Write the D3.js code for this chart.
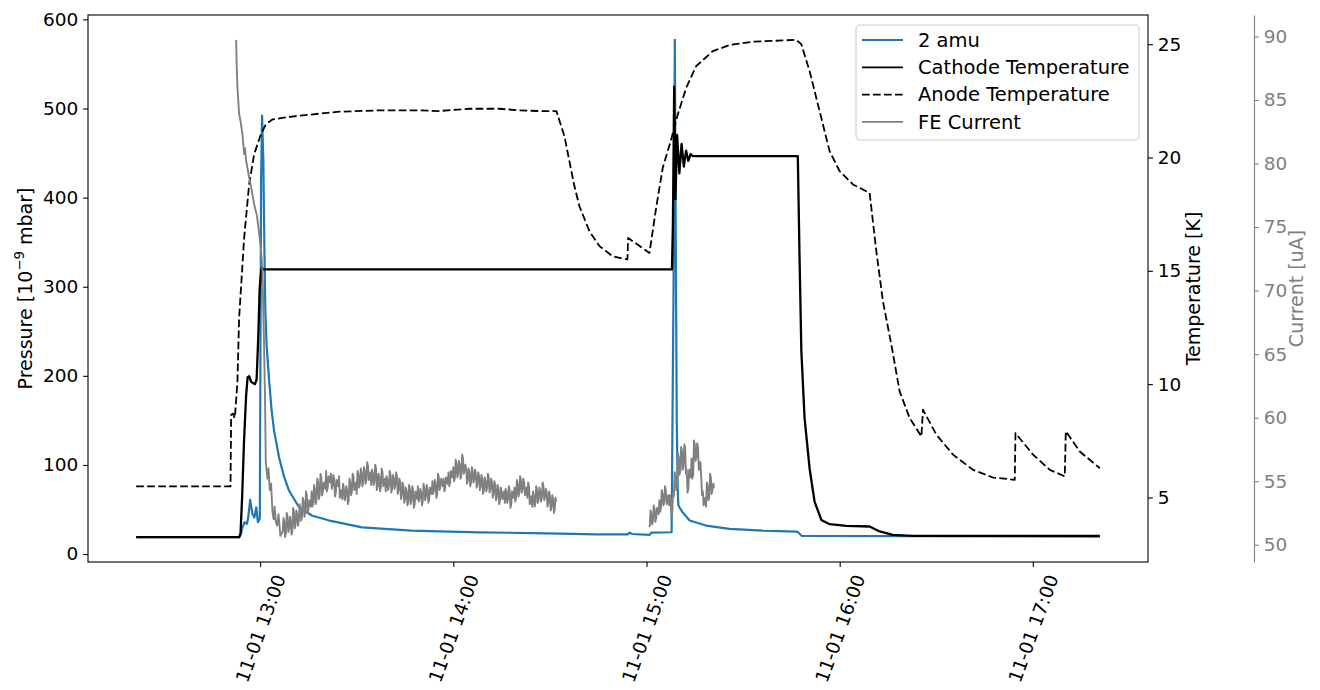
<!DOCTYPE html>
<html>
<head>
<meta charset="utf-8">
<script src="https://cdn.jsdelivr.net/npm/d3@7"></script>
<style>
  html, body { margin: 0; padding: 0; background: #fff; }
  svg { display: block; font-family: "DejaVu Sans", sans-serif; }
</style>
</head>
<body>
<svg id="chart" width="1320" height="690"></svg>
<script>
// ---- data: times are minutes after 12:00 on 11-01 ----
const day0 = new Date(2023, 10, 1, 12, 0, 0);

// 2 amu partial pressure [1e-9 mbar]
const pressureMin = [21.5, 53.5, 54.0, 54.5, 55.2, 55.9, 56.3, 56.9, 57.6, 58.2, 58.8, 59.3, 59.9, 60.3, 60.6, 61.0, 61.3, 61.6, 62.0, 62.8, 63.6, 64.35, 65.9, 67.5, 69.0, 72.1, 76.2, 81.5, 91.7, 107, 128, 149, 164.5, 174.1, 174.7, 175.6, 180.9, 181.5, 187.8, 188.4, 188.8, 189.1, 189.4, 189.7, 189.9, 190.3, 191.2, 193.4, 198.5, 205.8, 216, 226.5, 226.9, 228.2, 320.8];
const pressureVal = [19, 19, 22.6, 30, 35.7, 33.8, 41, 60.8, 45, 41, 52.5, 35.7, 40, 420, 492, 440, 350, 275, 235, 194, 160, 138, 108, 86, 71, 52.5, 43, 37.6, 30, 26.3, 24.4, 23.3, 22, 22, 24, 22.5, 21.5, 24, 24.5, 300, 577, 350, 150, 71, 55, 52, 47, 37.6, 32, 28.2, 26.3, 25.2, 25, 20.5, 19.5];

// Cathode temperature [K]
const cathodeMin = [21.5, 53.5, 53.9, 54.4, 55.0, 55.65, 56.1, 56.6, 57.2, 58.4, 58.9, 59.4, 59.85, 60.3, 60.6, 60.9, 187.9, 188.2, 188.6, 189.0, 189.5, 190.2, 190.9, 191.6, 192.3, 193.0, 193.7, 194.4, 227.0, 227.5, 228.1, 229.1, 230.65, 232.2, 234.3, 236.9, 242.1, 249.3, 252.4, 256.5, 262.7, 320.8];
const cathodeVal = [3.25, 3.25, 3.4, 5.0, 7.5, 9.5, 10.3, 10.35, 10.1, 10.0, 10.2, 12, 14.2, 15.0, 15.15, 15.06, 15.06, 17, 23.13, 18.16, 21.0, 19.3, 20.6, 19.6, 20.3, 19.85, 20.15, 20.06, 20.06, 15.87, 11.45, 8.5, 6.29, 4.82, 4.01, 3.82, 3.75, 3.72, 3.5, 3.35, 3.31, 3.31];

// Anode temperature [K]
const anodeMin = [21.5, 50.8, 51.0, 51.6, 52.1, 52.4, 52.95, 53.47, 55.03, 56.58, 58.13, 60.22, 61.77, 63.82, 71.1, 84.56, 97, 109.4, 115.6, 125, 134.3, 140.5, 146.7, 152.0, 154.5, 156.05, 157.6, 159.16, 162.27, 165.38, 169.51, 174.08, 174.3, 180.92, 183.0, 185.06, 187.67, 189.72, 192.33, 195.43, 200.59, 205.78, 213.03, 226.52, 228.07, 230.65, 233.76, 236.87, 239.98, 244.11, 249.3, 251.38, 253.43, 256.05, 258.63, 261.74, 265.38, 265.87, 270.04, 275.2, 281.41, 287.63, 294.38, 294.6, 300.07, 305.26, 309.92, 310.23, 314.58, 320.8];
const anodeVal = [5.49, 5.49, 8.65, 8.7, 8.5, 9.0, 10.12, 12.92, 16.45, 18.81, 20.14, 21.02, 21.46, 21.68, 21.83, 22.02, 22.08, 22.08, 22.05, 22.15, 22.15, 22.08, 22.05, 22.05, 20.95, 19.84, 18.74, 17.85, 16.75, 16.09, 15.64, 15.5, 16.45, 15.79, 17.78, 19.55, 20.8, 21.9, 23.07, 24.03, 24.69, 24.96, 25.11, 25.19, 25.0, 23.82, 22.05, 20.28, 19.4, 18.81, 18.44, 15.87, 13.66, 11.74, 9.68, 8.5, 7.69, 8.87, 7.77, 6.89, 6.22, 5.88, 5.78, 7.84, 6.89, 6.22, 5.93, 7.92, 7.03, 6.29];

// Field-emission current [uA]: switch-on transient
const feRampMin = [52.54, 52.75, 52.95, 53.47, 54.0, 54.5, 55.03, 55.3, 55.6, 56.58, 57.3, 58.13, 59.0, 59.69, 60.2, 60.71, 61.2, 61.55, 61.75, 62.27, 62.6, 63.0, 63.4, 63.82, 64.2, 64.5, 64.88, 65.3, 65.7, 66.3, 66.93];
const feRampVal = [89.73, 87.5, 85.94, 83.9, 83.2, 82.3, 80.75, 81.2, 80.3, 78.9, 78.0, 76.8, 75.9, 74.5, 73.4, 71.6, 66, 61, 56.5, 55.2, 56.0, 54.3, 54.8, 52.6, 52.0, 53.0, 51.8, 51.5, 52.4, 50.7, 51.0];

// FE current, logged every 15 s during the first run
const feRunStart = 67.0, feRunStep = 0.25;
const feRunVal = [
  51.0, 52.1, 51.8, 50.6, 50.9, 52.5, 52.2, 51.0, 51.3, 52.2, 51.9, 50.8, 51.1, 52.9, 52.6, 51.3, 51.6, 52.7, 52.4, 51.5,
  51.8, 53.2, 52.9, 51.9, 52.2, 53.7, 53.4, 52.2, 52.5, 54.2, 53.9, 52.5, 52.8, 53.5, 53.2, 53.0, 54.2, 53.0, 53.3, 54.7,
  54.4, 53.2, 53.5, 55.2, 54.9, 53.6, 53.9, 55.6, 55.3, 53.9, 54.2, 54.9, 54.6, 54.4, 55.8, 54.2, 54.5, 55.4, 55.1, 54.9,
  55.6, 54.4, 54.7, 55.5, 55.2, 53.8, 54.1, 55.1, 54.8, 54.6, 55.4, 53.7, 54.0, 54.3, 53.6, 54.8, 54.5, 53.5, 53.8, 54.6,
  54.3, 53.2, 53.5, 55.2, 54.9, 53.9, 54.2, 55.6, 55.3, 54.3, 54.6, 54.9, 54.0, 55.8, 55.5, 54.5, 54.8, 56.0, 55.7, 54.6,
  54.9, 56.1, 55.8, 54.8, 55.1, 56.5, 56.2, 55.1, 55.4, 55.7, 54.7, 55.9, 55.6, 54.7, 55.0, 56.3, 56.0, 54.3, 54.6, 55.6,
  55.3, 54.2, 54.5, 56.0, 55.7, 54.6, 54.9, 55.2, 54.2, 55.4, 55.1, 54.3, 54.6, 55.8, 55.5, 54.1, 54.4, 55.5, 55.2, 54.4,
  54.7, 55.7, 55.4, 54.0, 54.3, 55.2, 54.9, 53.6, 53.9, 54.9, 54.6, 53.3, 53.6, 54.5, 54.2, 53.1, 53.4, 54.7, 54.4, 53.2,
  53.5, 54.6, 54.3, 52.9, 53.2, 54.2, 53.9, 53.6, 54.6, 53.4, 53.7, 54.4, 54.1, 53.1, 53.4, 54.8, 54.5, 53.5, 53.8, 54.7,
  54.4, 53.3, 53.6, 54.5, 54.2, 54.0, 55.0, 54.0, 54.3, 55.1, 54.8, 53.7, 54.0, 55.6, 55.3, 54.3, 54.6, 55.2, 54.9, 54.6,
  55.2, 54.2, 54.5, 55.3, 55.0, 54.8, 55.7, 54.6, 54.9, 55.8, 55.5, 55.3, 56.1, 55.0, 55.3, 56.7, 56.4, 55.3, 55.6, 56.6,
  56.3, 55.2, 55.5, 57.1, 56.8, 55.6, 55.9, 56.3, 56.0, 54.8, 55.1, 56.0, 55.7, 54.6, 54.9, 56.1, 55.8, 54.9, 55.2, 55.9,
  55.6, 54.5, 54.8, 55.7, 55.4, 54.3, 54.6, 55.5, 55.2, 54.0, 54.3, 55.3, 55.0, 54.2, 54.5, 55.6, 55.3, 54.1, 54.4, 55.2,
  54.9, 53.7, 54.0, 55.0, 54.7, 53.5, 53.8, 54.7, 54.4, 53.2, 53.5, 54.5, 54.2, 53.6, 53.9, 54.2, 53.3, 54.4, 54.1, 53.3,
  53.6, 54.6, 54.3, 52.9, 53.2, 54.2, 53.9, 53.7, 54.5, 53.4, 53.7, 55.1, 54.8, 53.8, 54.1, 55.4, 55.1, 54.1, 54.4, 55.2,
  54.9, 53.9, 54.2, 54.5, 53.7, 54.9, 54.6, 53.2, 53.5, 53.8, 53.0, 54.2, 53.9, 53.0, 53.3, 54.6, 54.3, 53.3, 53.6, 54.5,
  54.2, 53.4, 53.7, 54.9, 54.6, 53.5, 53.8, 54.4, 54.1, 53.0, 53.3, 54.2, 53.9, 52.7, 53.0, 53.9, 53.6, 52.5, 52.8, 53.7,
  53.4
];

// FE current, second run (15 s sampling)
const feLateStart = 181.0, feLateStep = 0.25;
const feLateVal = [
  51.4, 52.7, 52.4, 51.6, 51.9, 53.1, 52.8, 51.8, 52.1, 52.9,
  52.6, 52.4, 53.5, 52.6, 52.9, 54.3, 54.0, 53.1, 53.4, 54.6,
  54.3, 53.2, 53.5, 53.9, 53.1, 53.9, 53.6, 52.2, 52.5, 54.1,
  53.8, 55.7, 55.4, 54.3, 54.6, 57.2, 56.9, 55.5, 55.8, 57.7,
  57.4, 55.9, 56.2, 57.9, 57.6, 55.6, 55.9, 54.1, 54.4, 55.9,
  55.6, 55.3, 56.8, 55.2, 55.5, 58.2, 57.9, 56.6, 56.9, 58.0,
  57.7, 55.9, 56.2, 56.5, 55.3, 53.9, 54.2, 53.1, 53.4, 53.7,
  53.0, 54.9, 54.6, 53.5, 53.8, 55.6, 55.3, 54.0, 54.3, 54.8,
  54.5
];

const pressureTicks = [0, 100, 200, 300, 400, 500, 600];
const temperatureTicks = [5, 10, 15, 20, 25];
const currentTicks = [50, 55, 60, 65, 70, 75, 80, 85, 90];

const legendLabels = ["2 amu", "Cathode Temperature", "Anode Temperature", "FE Current"];

// ---- layout & style ----
const plot = { left: 88, right: 1148, top: 15, bottom: 562 };
const currentAxisX = plot.left + 1.1 * (plot.right - plot.left);
const C_BLUE = "#1f77b4", C_GREY = "#808080";
const TICK = 4.9, TPAD = 4.9;
const TICK_FS = 18.5, LABEL_FS = 19, LEGEND_FS = 19.5;

const at = m => new Date(day0.getTime() + m * 60000);
const zip = (ts, vs) => ts.map((t, i) => [t, vs[i]]);
const pad = ([a, b]) => { const d = (b - a) * 0.05; return [a - d, b + d]; };

const pressure = zip(pressureMin, pressureVal);
const cathode = zip(cathodeMin, cathodeVal);
const anode = zip(anodeMin, anodeVal);
const feFirst = zip(feRampMin, feRampVal)
  .concat(feRunVal.map((v, i) => [feRunStart + i * feRunStep, v]));
const feSecond = feLateVal.map((v, i) => [feLateStart + i * feLateStep, v]);

const allMin = [].concat(pressureMin, cathodeMin, anodeMin, feFirst.map(d => d[0]), feSecond.map(d => d[0]));

const x = d3.scaleTime()
  .domain(pad(d3.extent(allMin)).map(at))
  .range([plot.left, plot.right]);
const yP = d3.scaleLinear().domain(pad(d3.extent(pressureVal))).range([plot.bottom, plot.top]);
const yT = d3.scaleLinear().domain(pad(d3.extent(cathodeVal.concat(anodeVal)))).range([plot.bottom, plot.top]);
const yC = d3.scaleLinear()
  .domain(pad(d3.extent(feFirst.concat(feSecond), d => d[1])))
  .range([plot.bottom, plot.top]);

const svg = d3.select("#chart");

const lineFor = y => d3.line().x(d => x(at(d[0]))).y(d => y(d[1]));

// ---- series ----
const series = svg.append("g").attr("fill", "none").attr("stroke-linejoin", "round");
series.append("path").datum(pressure).attr("d", lineFor(yP))
  .attr("stroke", C_BLUE).attr("stroke-width", 2.2);
series.append("path").datum(cathode).attr("d", lineFor(yT))
  .attr("stroke", "#000").attr("stroke-width", 2.3);
series.append("path").datum(anode).attr("d", lineFor(yT))
  .attr("stroke", "#000").attr("stroke-width", 1.8).attr("stroke-dasharray", "7.7,3.3");
series.append("path").datum(feFirst).attr("d", lineFor(yC))
  .attr("stroke", C_GREY).attr("stroke-width", 1.9);
series.append("path").datum(feSecond).attr("d", lineFor(yC))
  .attr("stroke", C_GREY).attr("stroke-width", 1.9);

// ---- frame ----
svg.append("rect")
  .attr("x", plot.left).attr("y", plot.top)
  .attr("width", plot.right - plot.left).attr("height", plot.bottom - plot.top)
  .attr("fill", "none").attr("stroke", "#000").attr("stroke-width", 1.1);

function styleAxis(g, color) {
  g.attr("font-size", null).attr("font-family", null);
  g.selectAll(".tick line").attr("stroke", color).attr("stroke-width", 1.1);
  g.selectAll(".tick text").attr("fill", color).attr("font-size", TICK_FS);
}

// left: pressure
const gP = svg.append("g").attr("transform", `translate(${plot.left},0)`)
  .call(d3.axisLeft(yP).tickValues(pressureTicks).tickSize(TICK).tickPadding(TPAD).tickSizeOuter(0));
gP.select(".domain").remove();
styleAxis(gP, "#000");

// right: temperature
const gT = svg.append("g").attr("transform", `translate(${plot.right},0)`)
  .call(d3.axisRight(yT).tickValues(temperatureTicks).tickSize(TICK).tickPadding(TPAD).tickSizeOuter(0));
gT.select(".domain").remove();
styleAxis(gT, "#000");

// offset right: current
const gC = svg.append("g").attr("transform", `translate(${currentAxisX},0)`)
  .call(d3.axisRight(yC).tickValues(currentTicks).tickSize(TICK).tickPadding(TPAD).tickSizeOuter(0));
gC.select(".domain").attr("stroke", C_GREY).attr("stroke-width", 1.1);
styleAxis(gC, C_GREY);

// bottom: time
const fmt = d3.timeFormat("%m-%d %H:%M");
const gX = svg.append("g").attr("transform", `translate(0,${plot.bottom})`)
  .call(d3.axisBottom(x).ticks(d3.timeHour.every(1)).tickFormat(fmt).tickSize(TICK).tickPadding(TPAD).tickSizeOuter(0));
gX.select(".domain").remove();
styleAxis(gX, "#000");
const ROT = 70, rad = ROT * Math.PI / 180, lineH = TICK_FS * 1.164;
gX.selectAll(".tick text").each(function () {
  const t = d3.select(this);
  t.attr("y", null).attr("dy", "0.35em").attr("text-anchor", "middle");
  const L = this.getComputedTextLength();
  const bh = L * Math.sin(rad) + lineH * Math.cos(rad);
  t.attr("transform", `translate(0,${TICK + TPAD + bh / 2}) rotate(${-ROT})`);
});

// ---- axis labels ----
const midY = (plot.top + plot.bottom) / 2;
const pl = svg.append("text")
  .attr("transform", `translate(32,${midY}) rotate(-90)`)
  .attr("text-anchor", "middle").attr("font-size", LABEL_FS).attr("fill", "#000");
pl.append("tspan").text("Pressure [10");
pl.append("tspan").attr("dy", -8).attr("font-size", LABEL_FS * 0.7).text("\u22129");
pl.append("tspan").attr("dy", 8).text(" mbar]");

svg.append("text")
  .attr("transform", `translate(1200,${midY}) rotate(-90)`)
  .attr("text-anchor", "middle").attr("font-size", LABEL_FS).attr("fill", "#000")
  .text("Temperature [K]");

svg.append("text")
  .attr("transform", `translate(1303,${midY}) rotate(-90)`)
  .attr("text-anchor", "middle").attr("font-size", LABEL_FS).attr("fill", C_GREY)
  .text("Current [uA]");

// ---- legend ----
const legendStyles = [
  { color: C_BLUE, width: 2.2, dash: null },
  { color: "#000", width: 1.8, dash: null },
  { color: "#000", width: 1.8, dash: "7.7,3.3" },
  { color: C_GREY, width: 1.6, dash: null }
];
const lg = svg.append("g");
lg.append("rect")
  .attr("x", 856).attr("y", 25).attr("width", 283).attr("height", 115).attr("rx", 4)
  .attr("fill", "#fff").attr("fill-opacity", 0.8)
  .attr("stroke", "#cccccc").attr("stroke-width", 1.1);
legendLabels.forEach((name, i) => {
  const cy = 40 + i * 27.3;
  const s = legendStyles[i];
  lg.append("line")
    .attr("x1", 862).attr("x2", 903).attr("y1", cy).attr("y2", cy)
    .attr("stroke", s.color).attr("stroke-width", s.width)
    .attr("stroke-dasharray", s.dash);
  lg.append("text")
    .attr("x", 918).attr("y", cy).attr("dy", "0.35em")
    .attr("font-size", LEGEND_FS).attr("fill", "#000").text(name);
});
</script>
</body>
</html>
